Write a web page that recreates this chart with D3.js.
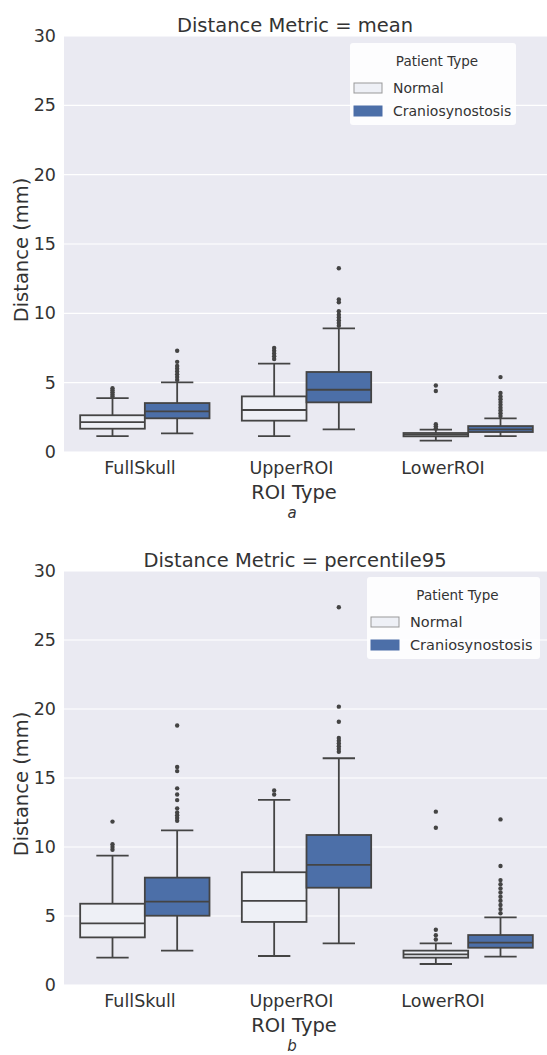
<!DOCTYPE html>
<html>
<head>
<meta charset="utf-8">
<script src="https://cdn.jsdelivr.net/npm/d3@7"></script>
<style>
  body { margin: 0; background: #fff; }
  text { font-family: "DejaVu Sans", sans-serif; fill: #333; }
</style>
</head>
<body>
<div id="chart"></div>
<script>
// categories
const roiTypes = ["FullSkull", "UpperROI", "LowerROI"];
const patientTypes = ["Normal", "Craniosynostosis"];
const yTicks = [0, 5, 10, 15, 20, 25, 30];

// box stats: [lowWhisker, q1, median, q3, highWhisker]
const meanBoxes = [
    { roi: "FullSkull", type: "Normal",           s: [1.15, 1.68, 2.16, 2.65, 3.89], out: [4.0, 4.15, 4.3, 4.45, 4.6] },
    { roi: "FullSkull", type: "Craniosynostosis", s: [1.35, 2.43, 2.93, 3.53, 5.02], out: [5.2, 5.4, 5.6, 5.8, 6.0, 6.2, 6.5, 7.3] },
    { roi: "UpperROI",  type: "Normal",           s: [1.15, 2.26, 3.03, 4.01, 6.37], out: [6.7, 6.9, 7.1, 7.3, 7.5] },
    { roi: "UpperROI",  type: "Craniosynostosis", s: [1.63, 3.58, 4.49, 5.77, 8.92], out: [9.1, 9.3, 9.5, 9.7, 9.9, 10.15, 10.8, 11.0, 13.25] },
    { roi: "LowerROI",  type: "Normal",           s: [0.82, 1.13, 1.25, 1.37, 1.61], out: [1.7, 1.85, 2.0, 4.4, 4.8] },
    { roi: "LowerROI",  type: "Craniosynostosis", s: [1.15, 1.44, 1.63, 1.87, 2.43], out: [2.6, 2.8, 3.0, 3.2, 3.4, 3.6, 3.8, 4.0, 4.25, 5.4] }
];

const p95Boxes = [
    { roi: "FullSkull", type: "Normal",           s: [1.98, 3.45, 4.47, 5.89, 9.37], out: [9.8, 10.0, 10.2, 11.84] },
    { roi: "FullSkull", type: "Craniosynostosis", s: [2.49, 5.02, 6.04, 7.78, 11.21], out: [11.9, 12.1, 12.3, 12.5, 12.8, 13.4, 13.8, 14.25, 15.5, 15.8, 18.8] },
    { roi: "UpperROI",  type: "Normal",           s: [2.1, 4.57, 6.09, 8.17, 13.41], out: [13.8, 14.1] },
    { roi: "UpperROI",  type: "Craniosynostosis", s: [3.02, 7.05, 8.70, 10.87, 16.43], out: [16.9, 17.1, 17.3, 17.5, 17.7, 17.9, 19.08, 20.17, 27.37] },
    { roi: "LowerROI",  type: "Normal",           s: [1.52, 1.98, 2.22, 2.49, 3.02], out: [3.3, 3.6, 4.0, 11.4, 12.56] },
    { roi: "LowerROI",  type: "Craniosynostosis", s: [2.05, 2.70, 3.07, 3.62, 4.9], out: [5.2, 5.5, 5.8, 6.1, 6.4, 6.7, 7.0, 7.3, 7.6, 8.62, 12.0] }
];

const width = 547, height = 1055;
const colors = { "Normal": "#eef0f6", "Craniosynostosis": "#4c6fa8" };
const lineColor = "#444";

const svg = d3.select("#chart").append("svg")
    .attr("width", width)
    .attr("height", height);

function drawPanel(cfg) {
    const g = svg.append("g");

    const y = d3.scaleLinear().domain([0, 30]).range([cfg.bottom, cfg.top]);
    const x = d3.scaleBand().domain(roiTypes).range([64, 549]);
    const hue = d3.scaleBand().domain(patientTypes).range([0, x.bandwidth() * 0.8]);
    // text under the axis sits slightly narrower than the boxes in the source image
    const xLab = d3.scalePoint().domain(roiTypes).range([140, 443]);

    g.append("rect")
        .attr("x", 64).attr("y", cfg.top)
        .attr("width", width - 64).attr("height", cfg.bottom - cfg.top)
        .attr("fill", "#eaeaf2");

    g.selectAll("line.grid")
        .data(yTicks)
        .enter().append("line")
        .attr("x1", 64).attr("x2", width)
        .attr("y1", d => y(d)).attr("y2", d => y(d))
        .attr("stroke", "#fff").attr("stroke-width", 1.2);

    g.selectAll("text.ytick")
        .data(yTicks)
        .enter().append("text")
        .attr("x", 56).attr("y", d => y(d))
        .attr("dy", "0.35em")
        .attr("text-anchor", "end")
        .style("font-size", "17.5px")
        .text(d => d);

    g.selectAll("text.xtick")
        .data(roiTypes)
        .enter().append("text")
        .attr("x", d => xLab(d)).attr("y", cfg.bottom + 22)
        .attr("text-anchor", "middle")
        .style("font-size", "17.5px")
        .text(d => d);

    g.append("text")
        .attr("x", 294).attr("y", cfg.bottom + 47)
        .attr("text-anchor", "middle")
        .style("font-size", "19.5px")
        .text("ROI Type");

    g.append("text")
        .attr("x", 292).attr("y", cfg.bottom + 66)
        .attr("text-anchor", "middle")
        .style("font-size", "15px").style("font-style", "italic")
        .text(cfg.letter);

    g.append("text")
        .attr("transform", `translate(28,${(cfg.top + cfg.bottom) / 2 + 6}) rotate(-90)`)
        .attr("text-anchor", "middle")
        .style("font-size", "19.5px")
        .text("Distance (mm)");

    g.append("text")
        .attr("x", 295).attr("y", cfg.top - 4)
        .attr("text-anchor", "middle")
        .style("font-size", "19.5px")
        .text(cfg.title);

    // boxes
    const box = g.selectAll("g.box")
        .data(cfg.data)
        .enter().append("g")
        .attr("transform", d => `translate(${x(d.roi) + x.bandwidth() * 0.1 + hue(d.type)},0)`);

    const bw = hue.bandwidth();

    box.append("line")
        .attr("x1", bw / 2).attr("x2", bw / 2)
        .attr("y1", d => y(d.s[0])).attr("y2", d => y(d.s[1]))
        .attr("stroke", lineColor).attr("stroke-width", 1.8);
    box.append("line")
        .attr("x1", bw / 2).attr("x2", bw / 2)
        .attr("y1", d => y(d.s[3])).attr("y2", d => y(d.s[4]))
        .attr("stroke", lineColor).attr("stroke-width", 1.8);
    box.selectAll("line.cap")
        .data(d => [d.s[0], d.s[4]])
        .enter().append("line")
        .attr("x1", bw / 4).attr("x2", bw * 3 / 4)
        .attr("y1", d => y(d)).attr("y2", d => y(d))
        .attr("stroke", lineColor).attr("stroke-width", 1.8);
    box.append("rect")
        .attr("x", 0).attr("width", bw)
        .attr("y", d => y(d.s[3]))
        .attr("height", d => y(d.s[1]) - y(d.s[3]))
        .attr("fill", d => colors[d.type])
        .attr("stroke", lineColor).attr("stroke-width", 1.8);
    box.append("line")
        .attr("x1", 0).attr("x2", bw)
        .attr("y1", d => y(d.s[2])).attr("y2", d => y(d.s[2]))
        .attr("stroke", lineColor).attr("stroke-width", 1.8);
    box.selectAll("circle")
        .data(d => d.out)
        .enter().append("circle")
        .attr("cx", bw / 2).attr("cy", d => y(d))
        .attr("r", 2.2)
        .attr("fill", lineColor);

    // legend
    const lg = g.append("g").attr("transform", `translate(${cfg.legX},${cfg.legY})`);
    lg.append("rect")
        .attr("width", cfg.legW).attr("height", 82).attr("rx", 3)
        .attr("fill", "#fff").attr("opacity", 0.9);
    lg.append("text")
        .attr("x", cfg.legW / 2 + 4).attr("y", 23)
        .attr("text-anchor", "middle")
        .style("font-size", "13.5px")
        .text("Patient Type");
    const item = lg.selectAll("g.item")
        .data(patientTypes)
        .enter().append("g")
        .attr("transform", (d, i) => `translate(4,${40 + i * 23})`);
    item.append("rect")
        .attr("width", 28).attr("height", 10)
        .attr("fill", d => colors[d])
        .attr("stroke", d => d === "Normal" ? "#999" : colors[d]);
    item.append("text")
        .attr("x", 39).attr("y", 5).attr("dy", "0.35em")
        .style("font-size", cfg.legFont)
        .text(d => d);
}

drawPanel({ data: meanBoxes, top: 36, bottom: 452, title: "Distance Metric = mean", letter: "a", legX: 350, legY: 43, legW: 166, legFont: "14px" });
drawPanel({ data: p95Boxes, top: 571, bottom: 985, title: "Distance Metric = percentile95", letter: "b", legX: 367, legY: 577, legW: 173, legFont: "14.5px" });
</script>
</body>
</html>
